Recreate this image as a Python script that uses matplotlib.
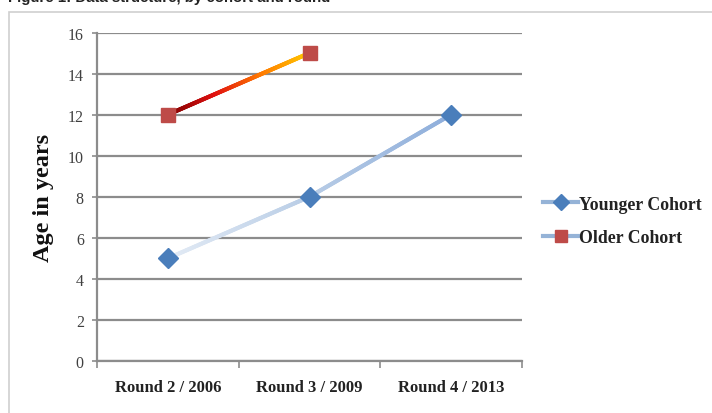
import numpy as np
import matplotlib
matplotlib.use("Agg")
import matplotlib.pyplot as plt
from matplotlib.collections import LineCollection
from matplotlib.colors import LinearSegmentedColormap
from matplotlib.lines import Line2D
from matplotlib.patches import Rectangle

# Data
rounds = ["Round 2 / 2006", "Round 3 / 2009", "Round 4 / 2013"]
younger_age = [5, 8, 12]
older_age = [12, 15]
series_names = ["Younger Cohort", "Older Cohort"]
y_ticks = [0, 2, 4, 6, 8, 10, 12, 14, 16]

serif = ["Liberation Serif", "DejaVu Serif"]

fig = plt.figure(figsize=(7.12, 4.14), dpi=100)

# Outer frame of the chart object
fig.patches.append(Rectangle((9 / 712, -0.05), 1.0, 1 - 13 / 414 + 0.05,
                             transform=fig.transFigure, fill=False,
                             edgecolor="#cfcfcf", linewidth=1.2))

# Caption running off the top edge
fig.text(8 / 712, 1 - 2 / 414, "Figure 1: Data structure, by cohort and round",
         fontsize=10.8, fontweight="bold", family="Liberation Sans",
         ha="left", va="baseline", color="#222222")

ax = fig.add_axes([97 / 712, 1 - 362 / 414, (522 - 97) / 712, (362 - 33.5) / 414])

x_pos = np.arange(len(rounds))


def gradient_line(ax, xs, ys, colors, lw):
    cmap = LinearSegmentedColormap.from_list("grad", colors)
    n = 200
    t = np.linspace(0, len(xs) - 1, n)
    xi = np.interp(t, np.arange(len(xs)), xs)
    yi = np.interp(t, np.arange(len(ys)), ys)
    pts = np.column_stack([xi, yi]).reshape(-1, 1, 2)
    segs = np.concatenate([pts[:-1], pts[1:]], axis=1)
    lc = LineCollection(segs, colors=cmap(np.linspace(0, 1, n - 1)),
                        linewidths=lw, capstyle="round", zorder=3)
    ax.add_collection(lc)


gradient_line(ax, x_pos[:len(younger_age)], younger_age,
              ["#e3ebf5", "#b9cde6", "#8eaedb"], 3.0)
gradient_line(ax, x_pos[:len(older_age)], older_age,
              ["#7a0000", "#e01010", "#ff7a00", "#ffc800"], 3.0)

ax.plot(x_pos[:len(younger_age)], younger_age, linestyle="none", marker="D",
        markersize=10, color="#4a7ebb", markeredgecolor="#4a7ebb", zorder=4)
ax.plot(x_pos[:len(older_age)], older_age, linestyle="none", marker="s",
        markersize=10, color="#be4b48", markeredgecolor="#be4b48", zorder=4)

ax.set_xlim(-0.5, len(rounds) - 0.5)
ax.set_ylim(0, 16)
ax.set_yticks(y_ticks)
ax.set_yticklabels([str(v) for v in y_ticks], family=serif, fontsize=11.5,
                   color="#404040")
ax.yaxis.grid(True, color="#8c8c8c", linewidth=1.6)
ax.set_axisbelow(True)

# Category boundaries carry the tick marks, labels sit at the centres
ax.set_xticks(np.arange(len(rounds) + 1) - 0.5)
ax.set_xticklabels([])
ax.set_xticks(x_pos, minor=True)
ax.set_xticklabels(rounds, minor=True, family=serif, fontsize=12,
                   fontweight="bold", color="#222222")
ax.tick_params(axis="x", which="major", length=5, width=1.2, color="#8c8c8c")
ax.tick_params(axis="x", which="minor", length=0, pad=13)
ax.tick_params(axis="y", length=3.5, width=1.2, color="#8c8c8c", pad=6)

for side in ("top", "right"):
    ax.spines[side].set_visible(False)
for side in ("left", "bottom"):
    ax.spines[side].set_color("#8c8c8c")
    ax.spines[side].set_linewidth(1.6)

ax.set_ylabel("Age in years", family=serif, fontsize=17.5, fontweight="bold",
              labelpad=10, color="#111111")

handles = [
    Line2D([], [], color="#95b3d7", linewidth=3, marker="D", markersize=8,
           markerfacecolor="#4a7ebb", markeredgecolor="#4a7ebb"),
    Line2D([], [], color="#95b3d7", linewidth=3, marker="s", markersize=9,
           markerfacecolor="#be4b48", markeredgecolor="#be4b48"),
]
leg = fig.legend(handles, series_names, loc="center left",
                 bbox_to_anchor=(538 / 712, 1 - 222 / 414), frameon=False,
                 prop={"family": serif, "size": 12.8, "weight": "bold"},
                 handlelength=1.95, handletextpad=0.05, labelspacing=0.95,
                 borderaxespad=0.0, borderpad=0.3)
for t in leg.get_texts():
    t.set_color("#222222")

fig.savefig("out.png", dpi=100)
